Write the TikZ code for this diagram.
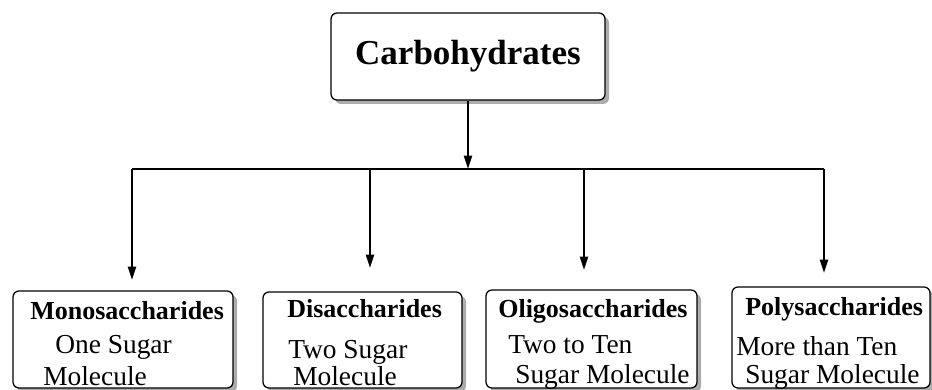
\documentclass[tikz,border=0pt]{standalone}
\usepackage{fontspec}
\setmainfont{Liberation Serif}
\usetikzlibrary{arrows.meta}
\usetikzlibrary{shadows}

\begin{document}
\begin{tikzpicture}[
		catbox/.style={draw=black,line width=0.9pt,rounded corners=0.15cm,fill=white,inner sep=0pt,
			drop shadow={shadow xshift=0.1cm,shadow yshift=-0.1cm,fill=gray!65,opacity=1}},
		headtext/.style={anchor=base west,inner sep=0pt,font=\fontsize{18.5}{20}\selectfont\bfseries},
		bodytext/.style={anchor=base west,inner sep=0pt,font=\fontsize{19.5}{22}\selectfont},
		link/.style={draw=black,line width=1.4pt},
		linkarrow/.style={link,-{Triangle[width=5.7pt,length=9.5pt]}}]

		\useasboundingbox (0,0) rectangle (23.3,9.725);

		\node[catbox,minimum width=6.85cm,minimum height=2.175cm,
			font=\fontsize{24.9}{26}\selectfont\bfseries] (carb) at (11.7,8.3125) {Carbohydrates};

		\node[catbox,minimum width=5.5cm,minimum height=2.425cm] (mono) at (3.075,1.2375) {};
		\node[catbox,minimum width=4.975cm,minimum height=2.4cm] (di) at (9.0625,1.225) {};
		\node[catbox,minimum width=5.275cm,minimum height=2.45cm] (oligo) at (14.7875,1.25) {};
		\node[catbox,minimum width=4.95cm,minimum height=2.525cm] (poly) at (20.775,1.2875) {};

		\node[headtext] (monoT) at (0.75,1.75) {Monosaccharides};
		\node[bodytext] (monoA) at (1.375,0.9) {One Sugar};
		\node[bodytext] (monoB) at (1.075,0.1) {Molecule};

		\node[headtext] (diT) at (7.175,1.8) {Disaccharides};
		\node[bodytext] (diA) at (7.2,0.775) {Two Sugar};
		\node[bodytext] (diB) at (7.325,0.1) {Molecule};

		\node[headtext] (oligoT) at (12.45,1.8) {Oligosaccharides};
		\node[bodytext] (oligoA) at (12.7,0.9) {Two to Ten};
		\node[bodytext] (oligoB) at (12.875,0.15) {Sugar Molecule};

		\node[headtext] (polyT) at (18.625,1.85) {Polysaccharides};
		\node[bodytext] (polyA) at (18.4,0.85) {More than Ten};
		\node[bodytext] (polyB) at (18.625,0.15) {Sugar Molecule};

		\coordinate (hub) at (11.7,5.5);
		\coordinate (busL) at (3.3,5.5);
		\coordinate (busR) at (20.6,5.5);
		\coordinate (monoIn) at (3.3,2.725);
		\coordinate (diIn) at (9.25,3.025);
		\coordinate (oligoIn) at (14.6,2.975);
		\coordinate (polyIn) at (20.6,2.9);

		\draw[linkarrow] (carb.south) -- (hub);
		\draw[link] (busL) -- (busR);
		\draw[linkarrow] (busL) -- (monoIn);
		\draw[linkarrow] (diIn |- busL) -- (diIn);
		\draw[linkarrow] (oligoIn |- busL) -- (oligoIn);
		\draw[linkarrow] (busR) -- (polyIn);

\end{tikzpicture}
\end{document}
